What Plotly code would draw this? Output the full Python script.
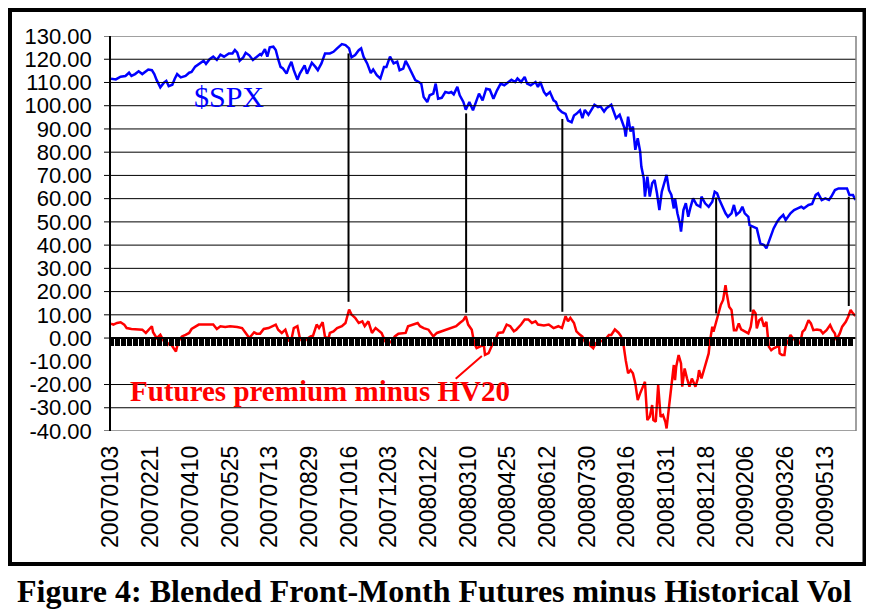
import plotly.graph_objects as go

# ---------------- data ----------------
# category index = trading-day number since 2007-01-03
spx_idx = [0,4,8,12,15,17,20,23,26,29,31,34,36,38,41,44,46,48,51,53,55,58,62,65,67,70,74,77,79,82,85,88,91,94,98,101,103,105,107,110,112,115,118,121,124,125,128,130,132,135,137,139,
           141,143,146,148,150,152,155,157,161,163,167,170,172,175,178,182,185,188,192,195,198,200,203,206,208,210,213,216,218,221,224,227,229,232,235,238,240,243,245,247,250,253,256,258,260,263,265,268,270,272,275,278,281,283,285,288,290,293,295,298,301,304,306,309,312,315,318,321,324,327,330,333,336,338,341,344,346,349,353,355,357,360,362,365,368,370,372,375,378,380,383,385,387,390,
           392,394,397,400,402,405,407,410,412,416,418,420,423,425,427,428,430,432,434,436,438,440,441,443,444,446,448,450,452,454,456,458,460,462,464,466,468,469,471,473,474,476,478,480,482,484,487,490,491,494,497,500,502,504,506,509,511,513,516,518,520,523,525,527,530,531,534,537,540,543,545,547,549,551,554,556,559,561,565,568,571,574,576,580,583,586,588,591,594,597,599,602,605,608,612,614,617,619]
spx_val = [111.6,111.3,112.5,112.8,114.2,112.8,113.6,114.8,113.6,115.0,115.6,115.3,113.6,111.0,107.9,109.9,110.7,108.4,109.0,111.6,113.6,112.2,112.8,114.2,114.5,116.8,118.5,119.4,118.0,120.0,121.1,119.7,122.0,121.1,122.5,122.5,124.0,122.8,119.4,120.8,122.8,121.7,119.7,121.1,122.2,121.8,124.3,121.1,125.1,125.4,124.0,120.0,
           116.7,116.0,113.8,116.7,118.9,115.3,111.2,113.8,117.4,113.8,118.5,116.7,115.3,118.2,122.5,122.5,123.2,124.7,126.5,126.1,124.7,120.8,121.8,123.9,124.7,121.1,118.2,114.1,115.6,113.1,111.7,116.7,116.7,121.1,118.2,118.9,115.3,116.0,119.3,117.4,113.8,111.0,110.2,109.5,103.7,101.6,104.5,105.2,109.5,103.0,103.4,105.9,105.5,105.9,104.9,108.1,104.5,101.6,98.3,101.6,98.0,102.3,105.2,102.3,107.3,106.9,103.0,106.6,109.5,108.8,110.2,111.2,110.2,111.7,110.2,112.4,109.5,108.8,110.2,108.1,110.2,105.9,104.5,105.9,102.3,101.6,98.7,97.2,96.5,93.6,92.9,95.8,96.5,98.0,
           94.6,98.2,96.1,98.9,100.4,99.4,99.7,97.5,98.9,100.4,97.5,94.6,96.1,93.2,90.3,86.7,95.3,88.9,91.0,81.0,86.0,80.3,73.8,68.8,60.9,69.5,60.9,66.6,68.0,62.3,55.1,63.0,66.6,70.2,63.7,61.6,55.8,60.1,53.7,49.4,45.8,55.1,58.0,52.2,56.5,60.1,57.3,56.5,60.9,58.0,56.5,58.7,63.0,62.3,59.4,55.8,53.7,52.2,53.7,57.3,53.0,54.4,56.5,53.7,52.2,48.6,47.9,47.2,40.7,40.0,38.6,41.5,45.1,47.2,50.1,51.5,53.0,50.8,53.7,55.1,55.8,56.5,55.8,57.3,57.7,61.6,62.3,59.4,60.1,59.4,60.9,63.7,64.4,64.4,64.4,61.6,61.6,59.4]

prem_idx = [0,2,5,8,11,13,17,22,26,29,31,34,35,38,41,44,47,49,52,54,56,59,62,65,67,70,73,77,81,85,88,91,95,99,105,109,112,115,119,121,124,127,131,135,137,139,142,145,148,150,152,155,157,160,162,166,168,171,173,176,178,181,
            182,185,188,192,195,198,200,203,206,209,211,214,217,220,222,225,228,231,234,236,239,242,245,247,252,255,257,260,264,268,271,275,279,283,287,290,293,295,297,300,302,304,307,310,311,314,317,319,322,326,329,332,335,337,341,344,347,350,353,355,360,364,368,372,375,378,380,382,385,387,390,
            392,394,396,398,401,403,405,408,411,414,416,419,422,424,426,428,430,432,434,436,438,440,442,444,446,448,450,451,453,455,457,459,461,462,464,466,468,469,470,472,474,475,477,479,481,483,486,488,489,491,493,495,497,498,500,501,503,505,507,509,511,512,514,516,518,520,522,524,527,530,532,534,536,537,539,541,543,545,547,549,551,554,555,556,558,560,561,563,565,567,570,573,575,577,580,582,584,587,590,592,595,598,600,602,603,606,608,611,613,615,617,619]
prem_val = [6.2,5.8,6.5,6.8,5.8,4.3,3.9,3.6,3.6,2.2,3.3,5.1,2.5,0.0,1.4,-1.4,-2.9,-1.9,-4.3,-5.8,-1.4,0.7,1.4,2.2,3.9,4.8,5.8,5.8,5.8,5.8,3.9,5.1,4.8,5.1,4.8,4.3,2.2,0.0,2.5,1.9,1.9,3.9,4.3,5.4,5.8,3.6,2.2,3.6,-1.0,-0.7,4.3,5.1,0.0,-2.2,-0.7,0.7,1.0,5.8,4.3,6.8,0.4,0.0,
            2.2,2.9,4.3,5.1,6.5,12.3,10.1,8.7,6.5,7.2,5.1,7.2,2.2,4.3,3.6,2.2,-1.4,-2.2,-1.0,0.7,1.9,2.2,2.2,5.1,5.8,6.5,5.1,4.3,3.6,0.7,2.2,2.9,3.9,4.3,5.1,6.5,7.7,9.4,5.8,3.6,-2.2,-4.3,-3.6,-2.9,-7.2,-6.5,-2.9,-1.4,2.2,2.5,5.8,5.1,2.9,3.6,5.8,8.0,8.0,6.5,7.2,5.8,5.4,5.8,4.3,5.1,4.3,9.4,7.2,8.7,6.5,2.9,1.4,
            0.6,-1.6,-0.6,-3.0,-4.4,-2.3,-1.6,-1.3,-0.6,1.3,1.3,3.7,2.3,0.9,-2.3,-9.5,-15.2,-13.8,-15.2,-19.5,-26.7,-23.8,-20.9,-18.8,-35.3,-33.9,-28.8,-35.3,-36.0,-20.2,-33.9,-33.1,-36.0,-38.9,-29.6,-20.9,-11.6,-18.1,-12.3,-7.3,-10.9,-20.9,-13.1,-17.4,-20.9,-17.4,-20.9,-17.4,-13.8,-17.4,-13.8,-9.5,-6.6,-1.6,4.9,2.7,6.3,10.6,14.2,16.4,22.8,19.2,13.5,12.1,3.4,3.4,6.3,3.7,2.7,2.0,4.9,12.1,10.6,4.2,7.7,8.5,4.9,7.0,-3.7,-5.2,-4.4,-3.7,-0.1,-6.6,-7.3,-7.3,-3.0,-1.6,1.3,-0.1,-1.6,-2.3,2.7,3.7,7.7,6.3,3.4,3.7,3.4,2.0,3.4,5.6,3.4,2.0,-0.9,2.0,4.9,7.0,9.2,12.1,10.6,9.5]

# vertical connectors (category index, lower end, upper end)
conn_idx = [197.5, 295.3, 375.3, 503.2, 531.8, 613.5]
conn_low = [15.6, 10.9, 11.3, 10.6, 11.3, 13.8]
conn_high = [122.5, 96.7, 94.3, 60.5, 47.9, 60.8]

tick_step = 33
tick_labels = ["20070103","20070221","20070410","20070525","20070713","20070829","20071016",
               "20071203","20080122","20080310","20080425","20080612","20080730","20080916",
               "20081031","20081218","20090206","20090326","20090513"]
y_ticks = list(range(-40, 131, 10))
grid_vals = [120, 110, 100, 90, 80, 70, 60, 50, 40, 30, 20, 10, -20, -30]

# ---------------- geometry (page pixels; the page body has an 8px margin) ----------------
OX, OY = 8, 8
W, H = 874 - OX, 616 - OY
PLOT_L, PLOT_R, PLOT_T, PLOT_B = 111, 856, 36, 431
ML, MR = PLOT_L - OX, W - (PLOT_R - OX)
MT, MB = PLOT_T - OY, H - (PLOT_B - OY)
PW, PH = W - ML - MR, H - MT - MB
def pxx(px):
    return (px - OX - ML) / PW
def pxy(py):
    return (H - MB - (py - OY)) / PH

XR = [0, 619.5]
YR = [-40, 130]

fig = go.Figure()
fig.add_trace(go.Scatter(x=prem_idx, y=prem_val, mode="lines",
                         line=dict(color="#FF0000", width=2.5), hoverinfo="skip", showlegend=False))
fig.add_trace(go.Scatter(x=spx_idx, y=spx_val, mode="lines",
                         line=dict(color="#0000FF", width=2.5), hoverinfo="skip", showlegend=False))
# dummy trace so the zero-line category axis is drawn
fig.add_trace(go.Scatter(x=[0], y=[None], xaxis="x2", yaxis="y", mode="lines",
                         hoverinfo="skip", showlegend=False))

shapes = []
# gridlines + left ticks
for v in grid_vals:
    shapes.append(dict(type="line", xref="paper", yref="y", x0=pxx(PLOT_L - 7), x1=1, y0=v, y1=v,
                       line=dict(color="black", width=1)))
for v in [-40, 0, 130]:
    shapes.append(dict(type="line", xref="paper", yref="y", x0=pxx(PLOT_L - 7), x1=0, y0=v, y1=v,
                       line=dict(color="black", width=1)))
# plot-area border (gray)
shapes.append(dict(type="line", xref="paper", yref="y", x0=0, x1=1, y0=130, y1=130, line=dict(color="#808080", width=1.5)))
shapes.append(dict(type="line", xref="paper", yref="y", x0=0, x1=1, y0=-40, y1=-40, line=dict(color="#808080", width=1.5)))
shapes.append(dict(type="line", xref="paper", yref="y", x0=1, x1=1, y0=-40, y1=130, line=dict(color="#808080", width=1.5)))
# connectors
for xi, lo, hi in zip(conn_idx, conn_low, conn_high):
    shapes.append(dict(type="line", xref="x", yref="y", x0=xi, x1=xi, y0=lo, y1=hi,
                       line=dict(color="black", width=2)))
# outer frame (left/top edges kept inside the drawable area)
shapes.append(dict(type="rect", xref="paper", yref="paper", x0=pxx(10), x1=pxx(864.5),
                   y0=pxy(564), y1=pxy(10), line=dict(color="black", width=4), layer="above"))

annotations = [
    dict(text="$SPX", xref="paper", yref="paper", x=pxx(228.5), y=pxy(96), showarrow=False,
         xanchor="center", yanchor="middle",
         font=dict(family="Liberation Serif, Times New Roman, serif", size=30, color="#0000FF")),
    dict(text="<b>Futures premium minus HV20</b>", xref="paper", yref="paper", x=pxx(319.7), y=pxy(391),
         showarrow=False, xanchor="center", yanchor="middle",
         font=dict(family="Liberation Serif, Times New Roman, serif", size=29, color="#FF0000")),
    dict(text="", x=308.4, y=-7.7, xref="x", yref="y", showarrow=True, arrowhead=0,
         arrowwidth=2, arrowcolor="#FF0000", ax=-27.7, ay=24, standoff=0),
    dict(text="<b>Figure 4: Blended Front-Month Futures minus Historical Vol</b>", xref="paper", yref="paper",
         x=pxx(434.5), y=pxy(591), showarrow=False, xanchor="center", yanchor="middle",
         font=dict(family="Liberation Serif, Times New Roman, serif", size=32, color="black")),
]

fig.update_layout(
    width=W, height=H, margin=dict(l=ML, r=MR, t=MT, b=MB, autoexpand=False),
    paper_bgcolor="white", plot_bgcolor="white", showlegend=False,
    xaxis=dict(range=XR, tickmode="array", tickvals=[i * tick_step for i in range(len(tick_labels))],
               ticktext=tick_labels, tickangle=-90, ticks="", showline=False, showgrid=False,
               zeroline=False, automargin=False,
               tickfont=dict(family="Liberation Sans, Arial, sans-serif", size=23, color="black"),
               ticklabelstandoff=9),
    xaxis2=dict(range=XR, overlaying="x", anchor="free", position=(0 - YR[0]) / (YR[1] - YR[0]),
                side="bottom", showline=True, linecolor="black", linewidth=1.5,
                ticks="outside", ticklen=7, tickwidth=4.5, tickcolor="black", automargin=False,
                tick0=0, dtick=5, showticklabels=False, showgrid=False, zeroline=False),
    yaxis=dict(range=YR, tickmode="array", tickvals=y_ticks, ticktext=[f"{v:.2f}" for v in y_ticks],
               ticks="outside", ticklen=7, tickcolor="rgba(0,0,0,0)", showline=True, linecolor="black",
               linewidth=1.5, showgrid=False, zeroline=False, automargin=False, ticklabelstandoff=6,
               tickfont=dict(family="Liberation Sans, Arial, sans-serif", size=22, color="black")),
    shapes=shapes, annotations=annotations,
)

fig.write_html("out.html")
